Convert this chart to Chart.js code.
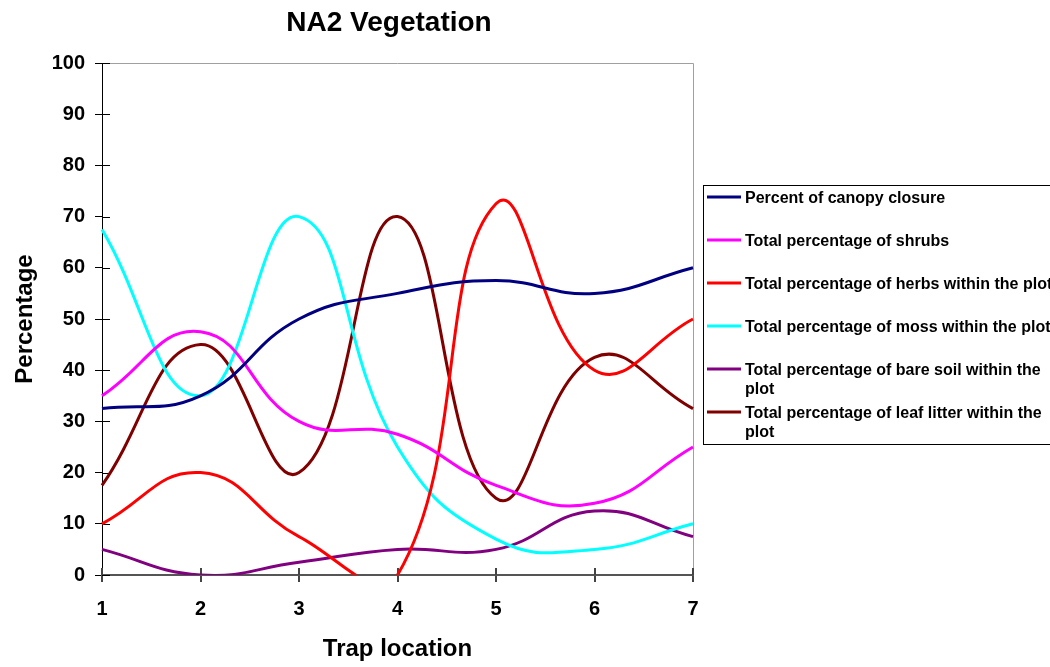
<!DOCTYPE html>
<html>
<head>
<meta charset="utf-8">
<title>NA2 Vegetation</title>
<script src="https://cdn.jsdelivr.net/npm/chart.js@4/dist/chart.umd.min.js"></script>
<style>
  html, body { margin: 0; padding: 0; background: #ffffff; }
  #wrap { width: 1050px; height: 667px; }
</style>
</head>
<body>
<div id="wrap"><canvas id="chart" width="1050" height="667"></canvas></div>
<script>
// Trap locations along the transect
const trapLocations = ['1', '2', '3', '4', '5', '6', '7'];

// Vegetation cover (%) at each trap
const canopyClosure = [32.5, 35, 50, 55, 57.5, 55, 60];
const shrubs        = [35, 47.5, 30, 27.5, 17.5, 14, 25];
const herbs         = [10, 20, 7.5, 0, 72.5, 40, 50];
const moss          = [67.5, 35, 70, 25, 7, 5, 10];
const bareSoil      = [5, 0, 2.5, 5, 5, 12.5, 7.5];
const leafLitter    = [17.5, 45, 20, 70, 15, 42.5, 32.5];

const seriesNames = [
  'Percent of canopy closure',
  'Total percentage of shrubs',
  'Total percentage of herbs within the plot',
  'Total percentage of moss within the plot',
  'Total percentage of bare soil within the plot',
  'Total percentage of leaf litter within the plot'
];
const seriesValues = [canopyClosure, shrubs, herbs, moss, bareSoil, leafLitter];
const seriesColors = ['#000080', '#FF00FF', '#FF0000', '#00FFFF', '#800080', '#800000'];

const FONT = "'Liberation Sans', Arial, Helvetica, sans-serif";

// Chart title, plot frame, inner tick halves and the boxed legend
const decorations = {
  id: 'decorations',
  beforeDatasetsDraw(chart) {
    const { ctx, chartArea: a } = chart;
    ctx.save();
    ctx.strokeStyle = '#a0a0a0';
    ctx.lineWidth = 1;
    ctx.beginPath();
    ctx.moveTo(a.left, a.top + 0.5);
    ctx.lineTo(a.right + 0.5, a.top + 0.5);
    ctx.lineTo(a.right + 0.5, a.bottom);
    ctx.stroke();

    // tick marks cross the axes: draw the inner halves
    const ys = chart.scales.y, xs = chart.scales.x;
    ctx.strokeStyle = '#000000';
    ctx.lineWidth = 1;
    ys.ticks.forEach((t, i) => {
      const py = Math.round(ys.getPixelForTick(i)) + 0.5;
      ctx.beginPath();
      ctx.moveTo(a.left, py);
      ctx.lineTo(a.left + 8, py);
      ctx.stroke();
    });
    ctx.strokeStyle = '#444444';
    ctx.lineWidth = 2;
    xs.ticks.forEach((t, i) => {
      const px = Math.round(xs.getPixelForTick(i));
      ctx.beginPath();
      ctx.moveTo(px, a.bottom);
      ctx.lineTo(px, a.bottom - 7);
      ctx.stroke();
    });
    ctx.restore();
  },
  afterDraw(chart) {
    const { ctx } = chart;
    ctx.save();
    // title
    ctx.fillStyle = '#000000';
    ctx.font = 'bold 28px ' + FONT;
    ctx.textAlign = 'center';
    ctx.textBaseline = 'middle';
    ctx.fillText('NA2 Vegetation', 389, 23);

    // legend box
    ctx.strokeStyle = '#000000';
    ctx.lineWidth = 1;
    ctx.strokeRect(703.5, 185.5, 380, 259);

    ctx.font = 'bold 16px ' + FONT;
    ctx.textAlign = 'left';
    ctx.textBaseline = 'middle';
    const wrapWidth = 318;
    chart.data.datasets.forEach((ds, i) => {
      const rowY = 197 + i * 43;
      ctx.strokeStyle = ds.borderColor;
      ctx.lineWidth = 3;
      ctx.beginPath();
      ctx.moveTo(707, rowY);
      ctx.lineTo(741, rowY);
      ctx.stroke();

      const words = ds.label.split(' ');
      const lines = [];
      let line = '';
      words.forEach(w => {
        const test = line ? line + ' ' + w : w;
        if (line && ctx.measureText(test).width > wrapWidth) {
          lines.push(line);
          line = w;
        } else {
          line = test;
        }
      });
      lines.push(line);
      ctx.fillStyle = '#000000';
      lines.forEach((l, k) => ctx.fillText(l, 745, rowY + 2 + k * 19));
    });
    ctx.restore();
  }
};

new Chart(document.getElementById('chart'), {
  type: 'line',
  data: {
    labels: trapLocations,
    datasets: seriesNames.map((name, i) => ({
      label: name,
      data: seriesValues[i],
      borderColor: seriesColors[i],
      backgroundColor: seriesColors[i],
      borderWidth: 3,
      pointRadius: 0,
      pointHoverRadius: 0,
      fill: false,
      tension: 0.45,
      cubicInterpolationMode: 'default'
    }))
  },
  options: {
    responsive: false,
    animation: false,
    devicePixelRatio: 1,
    layout: { padding: { left: 0, right: 357, top: 63, bottom: 0 } },
    elements: { line: { capBezierPoints: false } },
    plugins: {
      legend: { display: false },
      title: { display: false },
      tooltip: { enabled: false }
    },
    scales: {
      x: {
        type: 'category',
        offset: false,
        afterFit(scale) { scale.height = 92; },
        border: { display: true, color: '#555555', width: 2 },
        grid: { drawOnChartArea: false, drawTicks: true, tickLength: 7, color: '#444444', lineWidth: 2 },
        ticks: { color: '#000000', font: { family: FONT, size: 20, weight: 'bold' }, padding: 15, maxRotation: 0 },
        title: {
          display: true, text: 'Trap location', color: '#000000',
          font: { family: FONT, size: 24, weight: 'bold' }, padding: { top: 0, bottom: 3 }
        }
      },
      y: {
        min: 0,
        max: 100,
        afterFit(scale) { scale.width = 102; },
        border: { display: true, color: '#000000', width: 1 },
        grid: { drawOnChartArea: false, drawTicks: true, tickLength: 7, color: '#000000', lineWidth: 1 },
        ticks: { stepSize: 10, color: '#000000', font: { family: FONT, size: 20, weight: 'bold' }, padding: 10 },
        title: {
          display: true, text: 'Percentage', color: '#000000',
          font: { family: FONT, size: 24, weight: 'bold' }, padding: { top: 10.5, bottom: 0 }
        }
      }
    }
  },
  plugins: [decorations]
});
</script>
</body>
</html>
